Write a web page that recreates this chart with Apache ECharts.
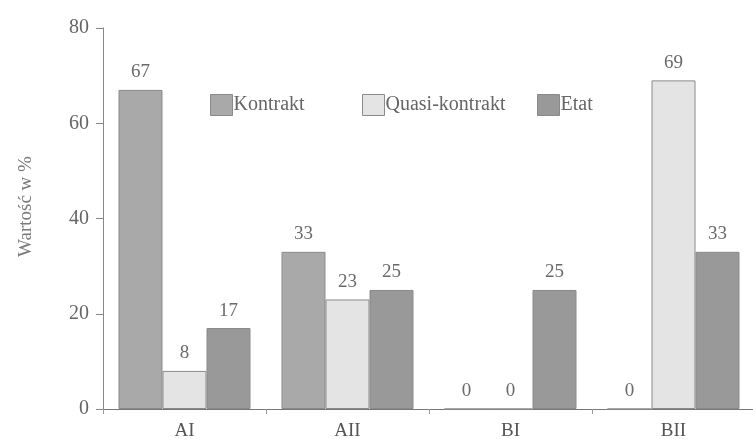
<!DOCTYPE html>
<html><head><meta charset="utf-8">
<script src="https://cdn.jsdelivr.net/npm/echarts@6/dist/echarts.min.js"></script>
<style>html,body{margin:0;padding:0;background:#fff}#c{width:753px;height:439px}</style>
</head><body><div id="c"></div>
<script>
const categories = ['AI', 'AII', 'BI', 'BII'];
const kontrakt = [67, 33, 0, 0];
const quasiKontrakt = [8, 23, 0, 69];
const etat = [17, 25, 25, 33];
const yTicks = [0, 20, 40, 60, 80];
const seriesNames = ['Kontrakt', 'Quasi-kontrakt', 'Etat'];

const font = '"Liberation Serif", "DejaVu Serif", serif';
const labelStyle = {show: true, position: 'top', distance: 8, color: '#6a6a6a', fontFamily: font, fontSize: 19};
function s(name, data, color) {
  return {
    name, type: 'bar', data,
    itemStyle: {color, borderColor: '#8a8a8a', borderWidth: 1},
    label: labelStyle,
    barGap: '0%'
  };
}
const legendLefts = [205, 357, 532];
const legends = seriesNames.map((n, i) => ({
  top: 89, left: legendLefts[i], itemWidth: 22, itemHeight: 21, icon: 'rect',
  textStyle: {color: '#666', fontFamily: font, fontSize: 20, padding: [0, 0, 0, -4]},
  data: [n],
  itemStyle: {borderColor: '#8a8a8a', borderWidth: 1}
}));
const chart = echarts.init(document.getElementById('c'));
chart.setOption({
  animation: false,
  textStyle: {fontFamily: font},
  grid: {left: 103, right: -2, top: 28, bottom: 30, outerBoundsMode: 'none', containLabel: false},
  legend: legends,
  xAxis: {
    type: 'category', data: categories,
    axisLine: {lineStyle: {color: '#777'}},
    axisTick: {show: true, length: 5, inside: false, lineStyle: {color: '#999'}},
    axisLabel: {color: '#555', fontFamily: font, fontSize: 19, margin: 13}
  },
  yAxis: {
    type: 'value', min: yTicks[0], max: yTicks[yTicks.length - 1], interval: 20,
    name: 'Wartość w %', nameLocation: 'middle', nameGap: 67, nameRotate: 90,
    nameTextStyle: {color: '#7a7a7a', fontFamily: font, fontSize: 19, padding: [0, 0, 0, 24]},
    axisLine: {show: true, lineStyle: {color: '#888'}},
    axisTick: {show: true, length: 7, lineStyle: {color: '#888'}},
    splitLine: {show: false},
    axisLabel: {color: '#666', fontFamily: font, fontSize: 20, margin: 14}
  },
  series: [
    Object.assign(s('Kontrakt', kontrakt, '#a9a9a9'), {barCategoryGap: '19%'}),
    s('Quasi-kontrakt', quasiKontrakt, '#e4e4e4'),
    s('Etat', etat, '#999999')
  ]
});
</script></body></html>
